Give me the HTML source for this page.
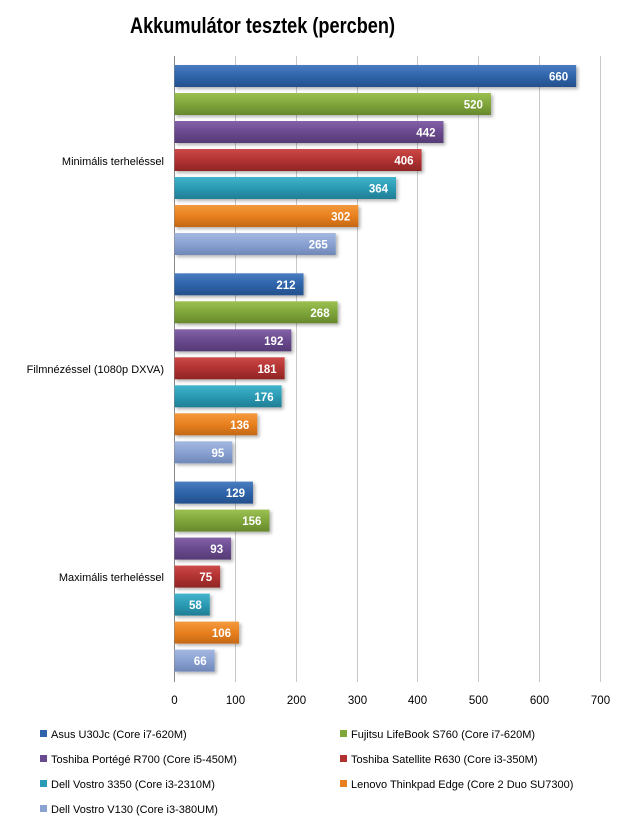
<!DOCTYPE html>
<html><head><meta charset="utf-8"><style>body{margin:0;background:#fff}svg{display:block}</style></head><body>
<svg width="625" height="824" viewBox="0 0 625 824" xmlns="http://www.w3.org/2000/svg" font-family="Liberation Sans, sans-serif">
<defs>
<filter id="sh" x="-5%" y="-20%" width="115%" height="160%"><feDropShadow dx="2" dy="2" stdDeviation="1.5" flood-color="#000" flood-opacity="0.3"/></filter>
<linearGradient id="g0" x1="0" y1="0" x2="0" y2="1"><stop offset="0" stop-color="#4a7cc0"/><stop offset="0.5" stop-color="#2f64aa"/><stop offset="1" stop-color="#24508c"/></linearGradient>
<linearGradient id="g1" x1="0" y1="0" x2="0" y2="1"><stop offset="0" stop-color="#9cc052"/><stop offset="0.5" stop-color="#7fa63b"/><stop offset="1" stop-color="#67882c"/></linearGradient>
<linearGradient id="g2" x1="0" y1="0" x2="0" y2="1"><stop offset="0" stop-color="#8462a8"/><stop offset="0.5" stop-color="#6a4a8f"/><stop offset="1" stop-color="#553a74"/></linearGradient>
<linearGradient id="g3" x1="0" y1="0" x2="0" y2="1"><stop offset="0" stop-color="#cc4a48"/><stop offset="0.5" stop-color="#b23232"/><stop offset="1" stop-color="#8f2626"/></linearGradient>
<linearGradient id="g4" x1="0" y1="0" x2="0" y2="1"><stop offset="0" stop-color="#44b4cc"/><stop offset="0.5" stop-color="#2a9bb4"/><stop offset="1" stop-color="#217e94"/></linearGradient>
<linearGradient id="g5" x1="0" y1="0" x2="0" y2="1"><stop offset="0" stop-color="#f49a3e"/><stop offset="0.5" stop-color="#e8801e"/><stop offset="1" stop-color="#c46816"/></linearGradient>
<linearGradient id="g6" x1="0" y1="0" x2="0" y2="1"><stop offset="0" stop-color="#a4b8e0"/><stop offset="0.5" stop-color="#8aa2d2"/><stop offset="1" stop-color="#7088b8"/></linearGradient>
</defs>
<text x="130" y="33" font-size="22" font-weight="bold" textLength="265" lengthAdjust="spacingAndGlyphs" font-family="Liberation Sans Narrow, Liberation Sans, sans-serif">Akkumulátor  tesztek (percben)</text>
<g stroke="#c8c8c8" stroke-width="1">
<line x1="235.5" y1="56" x2="235.5" y2="682"/><line x1="296.5" y1="56" x2="296.5" y2="682"/><line x1="357.5" y1="56" x2="357.5" y2="682"/><line x1="417.5" y1="56" x2="417.5" y2="682"/><line x1="478.5" y1="56" x2="478.5" y2="682"/><line x1="539.5" y1="56" x2="539.5" y2="682"/><line x1="600.5" y1="56" x2="600.5" y2="682"/>
</g>
<line x1="174.5" y1="56" x2="174.5" y2="682" stroke="#888"/>
<g id="bars" filter="url(#sh)"></g>
<g font-size="11" text-anchor="end" fill="#000">
<text x="164" y="165">Minimális terheléssel</text>
<text x="164" y="373">Filmnézéssel (1080p DXVA)</text>
<text x="164" y="581">Maximális terheléssel</text>
</g>
<g font-size="11.5" text-anchor="middle" fill="#000">
<text x="174.5" y="704">0</text><text x="235.5" y="704">100</text><text x="296.5" y="704">200</text><text x="357.5" y="704">300</text><text x="417.5" y="704">400</text><text x="478.5" y="704">500</text><text x="539.5" y="704">600</text><text x="600.5" y="704">700</text>
</g>
<g font-size="11" fill="#000">
<rect x="40" y="730" width="7" height="7" fill="#2f64aa"/><text x="51" y="738">Asus U30Jc (Core i7-620M)</text>
<rect x="340" y="730" width="7" height="7" fill="#7fa63b"/><text x="351" y="738">Fujitsu LifeBook S760 (Core i7-620M)</text>
<rect x="40" y="755" width="7" height="7" fill="#6a4a8f"/><text x="51" y="763">Toshiba Portégé R700 (Core i5-450M)</text>
<rect x="340" y="755" width="7" height="7" fill="#b23232"/><text x="351" y="763">Toshiba Satellite R630 (Core i3-350M)</text>
<rect x="40" y="780" width="7" height="7" fill="#2a9bb4"/><text x="51" y="788">Dell Vostro 3350 (Core i3-2310M)</text>
<rect x="340" y="780" width="7" height="7" fill="#e8801e"/><text x="351" y="788">Lenovo Thinkpad Edge (Core 2 Duo SU7300)</text>
<rect x="40" y="805" width="7" height="7" fill="#8aa2d2"/><text x="51" y="813">Dell Vostro V130 (Core i3-380UM)</text>
</g>
<g id="labels" font-size="11.5" font-weight="bold" fill="#fff" text-anchor="end"></g>
<script>
var d=[[660,520,442,406,364,302,265],[212,268,192,181,176,136,95],[129,156,93,75,58,106,66]];
var b=document.getElementById('bars'),l=document.getElementById('labels'),ns='http://www.w3.org/2000/svg';
for(var g=0;g<3;g++)for(var i=0;i<7;i++){var v=d[g][i],y=65+g*208.3+i*28,w=v*426/700;
var r=document.createElementNS(ns,'rect');r.setAttribute('x',174.5);r.setAttribute('y',y);r.setAttribute('width',w);r.setAttribute('height',22);r.setAttribute('fill','url(#g'+i+')');b.appendChild(r);
var t=document.createElementNS(ns,'text');t.setAttribute('x',174.5+w-8);t.setAttribute('y',y+15.5);t.textContent=v;l.appendChild(t);}
</script>
</svg>
</body></html>
